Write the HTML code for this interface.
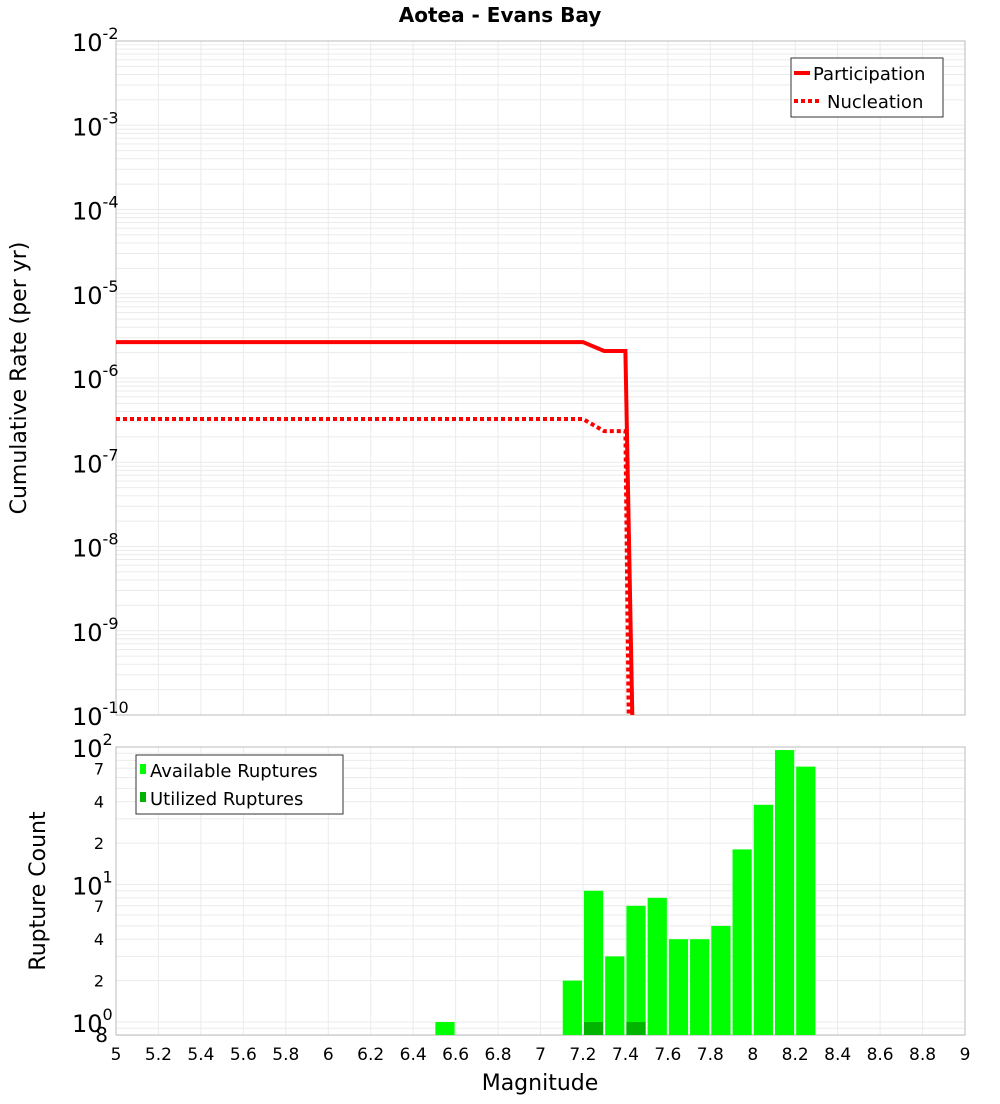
<!DOCTYPE html>
<html><head><meta charset="utf-8"><style>
body{margin:0;background:#fff;font-family:"DejaVu Sans","Liberation Sans",sans-serif}
</style></head><body>
<svg id="c" width="1000" height="1100" xmlns="http://www.w3.org/2000/svg" font-family="DejaVu Sans, Liberation Sans, sans-serif"></svg>
<script>
const lineMags=[5,7.2,7.3,7.4,7.44];
const participation=[2.67e-6,2.67e-6,2.09e-6,2.09e-6,1e-11];
const nucleationMags=[5,7.2,7.3,7.4,7.42];
const nucleation=[3.26e-7,3.26e-7,2.34e-7,2.34e-7,1e-11];
const barMags=[6.55,7.15,7.25,7.35,7.45,7.55,7.65,7.75,7.85,7.95,8.05,8.15,8.25];
const available=[1,2,9,3,7,8,4,4,5,18,38,95,72];
const utilizedMags=[7.25,7.45];
const utilized=[1,1];
const xTicks=["5","5.2","5.4","5.6","5.8","6","6.2","6.4","6.6","6.8","7","7.2","7.4","7.6","7.8","8","8.2","8.4","8.6","8.8","9"];
const topExps=[-2,-3,-4,-5,-6,-7,-8,-9,-10];

const svg=document.getElementById('c');
const NS='http://www.w3.org/2000/svg';
function mk(t,a,name,p){const e=document.createElementNS(NS,t);for(const k in a)e.setAttribute(k,a[k]);


(p||svg).appendChild(e);return e;}
const L=116,R=965,T1=41,B1=715,T2=747,B2=1035;
const xs=m=>L+(m-5)/4*(R-L);
const y1=v=>T1+(-2-Math.log10(v))/8*(B1-T1);
const y2=v=>1022-Math.log10(v)*137.5;

mk('text',{x:500,y:22,'text-anchor':'middle','font-size':20,'font-weight':'bold'},'chart-title').textContent='Aotea - Evans Bay';
// grids top
for(let e=-10;e<-2;e++)for(let k=1;k<10;k++){const y=y1(k*Math.pow(10,e));mk('line',{x1:L,x2:R,y1:y,y2:y,stroke:'#ebebeb'},'top-grid-h');}
for(let i=0;i<xTicks.length;i++){const x=xs(5+0.2*i);mk('line',{x1:x,x2:x,y1:T1,y2:B1,stroke:'#ebebeb'},'top-grid-v');mk('line',{x1:x,x2:x,y1:T2,y2:B2,stroke:'#ebebeb'},'bottom-grid-v');}
for(let e=-1;e<2;e++)for(let k=1;k<10;k++){const v=k*Math.pow(10,e);if(v<0.8)continue;const y=y2(v);mk('line',{x1:L,x2:R,y1:y,y2:y,stroke:'#ebebeb'},'bottom-grid-h');}
mk('rect',{x:L,y:T1,width:R-L,height:B1-T1,fill:'none',stroke:'#bbb'},'top-plot-frame');
mk('rect',{x:L,y:T2,width:R-L,height:B2-T2,fill:'none',stroke:'#bbb'},'bottom-plot-frame');
// top y ticks
topExps.forEach(e=>{const y=y1(Math.pow(10,e));const t=mk('text',{x:72,y:y+10,'font-size':24},'top-y-tick');
t.innerHTML='10<tspan dy="-12" font-size="16">'+e+'</tspan>';});
const yt=mk('text',{x:26,y:378,'font-size':22,'text-anchor':'middle',transform:'rotate(-90 26 378)'},'top-y-axis-title');yt.textContent='Cumulative Rate (per yr)';
// lines
const cp=mk('clipPath',{id:'cp'},'clip');mk('rect',{x:L,y:T1,width:R-L,height:B1-T1},'clip-rect',cp);
mk('polyline',{points:lineMags.map((m,i)=>xs(m)+','+y1(participation[i])).join(' '),fill:'none',stroke:'#f00','stroke-width':4,'clip-path':'url(#cp)'},'participation-line');
mk('polyline',{points:nucleationMags.map((m,i)=>xs(m)+','+y1(nucleation[i])).join(' '),fill:'none',stroke:'#f00','stroke-width':4,'stroke-dasharray':'4 3','clip-path':'url(#cp)'},'nucleation-line');
// top legend
const lg=mk('g',{},'top-legend');
mk('rect',{x:791,y:58,width:152,height:59,fill:'#fff',stroke:'#333'},'legend-box',lg);
mk('line',{x1:794,x2:810,y1:73,y2:73,stroke:'#f00','stroke-width':4},'legend-participation-swatch',lg);
mk('text',{x:813,y:80,'font-size':18},'legend-participation',lg).textContent='Participation';
mk('line',{x1:794,x2:822,y1:101,y2:101,stroke:'#f00','stroke-width':4,'stroke-dasharray':'4 3'},'legend-nucleation-swatch',lg);
mk('text',{x:827,y:108,'font-size':18},'legend-nucleation',lg).textContent='Nucleation';
// bars
const bw=(R-L)/40;
barMags.forEach((m,i)=>{const y=y2(available[i]);mk('rect',{x:xs(m)-bw/2+1,y:y,width:bw-2,height:B2-y,fill:'#00ff00'},'bar-available-'+m);});
utilizedMags.forEach((m,i)=>{const y=y2(utilized[i]);mk('rect',{x:xs(m)-bw/2+1,y:y,width:bw-2,height:B2-y,fill:'#00b400'},'bar-utilized-'+m);});
// bottom y ticks
[[100,'2'],[10,'1'],[1,'0']].forEach(([v,e])=>{const y=y2(v);const t=mk('text',{x:72,y:y+10,'font-size':24},'bottom-y-tick');t.innerHTML='10<tspan dy="-12" font-size="16">'+e+'</tspan>';});
[[70,'7'],[40,'4'],[20,'2'],[7,'7'],[4,'4'],[2,'2']].forEach(([v,l])=>{mk('text',{x:104,y:y2(v)+6,'font-size':16,'text-anchor':'end'},'bottom-y-minor-tick').textContent=l;});
mk('text',{x:108,y:1042,'font-size':20,'text-anchor':'end'},'bottom-y-tick-08').textContent='8';
const yb=mk('text',{x:45,y:891,'font-size':22,'text-anchor':'middle',transform:'rotate(-90 45 891)'},'bottom-y-axis-title');yb.textContent='Rupture Count';
// bottom legend
const lg2=mk('g',{},'bottom-legend');
mk('rect',{x:136,y:755,width:207,height:59,fill:'#fff',stroke:'#333'},'legend-box-2',lg2);
mk('rect',{x:140,y:764,width:6,height:10,fill:'#00ff00'},'legend-available-swatch',lg2);
mk('text',{x:150,y:777,'font-size':18},'legend-available',lg2).textContent='Available Ruptures';
mk('rect',{x:140,y:792,width:6,height:10,fill:'#00b400'},'legend-utilized-swatch',lg2);
mk('text',{x:150,y:805,'font-size':18},'legend-utilized',lg2).textContent='Utilized Ruptures';
// x ticks
xTicks.forEach((l,i)=>{mk('text',{x:xs(5+0.2*i),y:1060,'font-size':17,'text-anchor':'middle'},'x-tick').textContent=l;});
mk('text',{x:540,y:1090,'font-size':22,'text-anchor':'middle'},'x-axis-title').textContent='Magnitude';
</script>
</body></html>
